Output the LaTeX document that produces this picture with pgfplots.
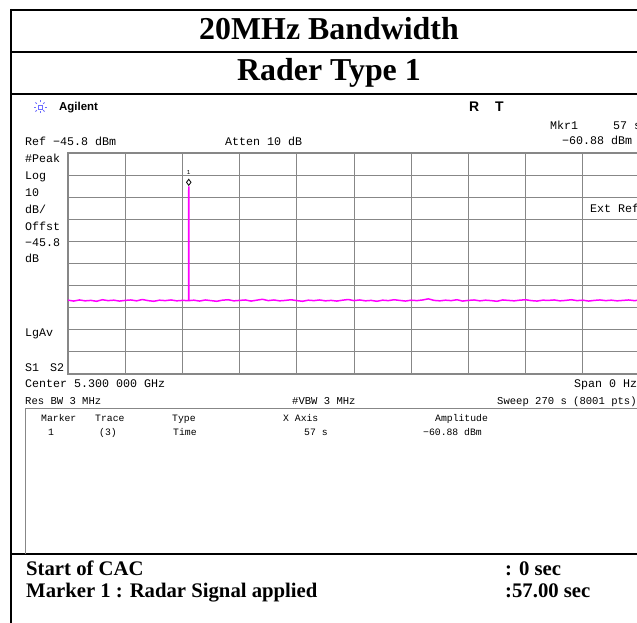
\documentclass[border=0pt]{standalone}
\usepackage{fontspec}
\setmainfont{Liberation Serif}
\newfontfamily\mono{Liberation Mono}
\newfontfamily\sans{Liberation Sans}
\usepackage{pgfplots}
\pgfplotsset{compat=1.18}
\usepackage{pgfplotstable}
\usetikzlibrary{calc}

\definecolor{trace}{RGB}{255,0,255}
\definecolor{grat}{RGB}{135,135,135}
\definecolor{logo}{RGB}{110,110,255}

% sweep trace, time in s, level in dBm
\pgfplotstableread{
t y
0 -112.4
2.7 -112.8
5.4 -112.3
8.1 -112.7
10.8 -112.5
13.5 -112.9
16.2 -112.2
18.9 -112.6
21.6 -112.4
24.3 -112.8
27.0 -112.5
29.7 -112.3
32.4 -112.7
35.1 -112.1
37.8 -112.6
40.5 -112.9
43.2 -112.4
45.9 -112.6
48.6 -112.3
51.3 -112.7
54.0 -112.5
56.9 -112.6
57.0 -60.88
57.1 -112.6
59.4 -112.4
62.1 -112.8
64.8 -112.3
67.5 -112.6
70.2 -112.9
72.9 -112.4
75.6 -112.2
78.3 -112.7
81.0 -112.5
83.7 -112.3
86.4 -112.8
89.1 -112.4
91.8 -112.0
94.5 -112.6
97.2 -112.3
99.9 -112.7
102.6 -112.5
105.3 -112.2
108.0 -112.6
110.7 -112.9
113.4 -112.4
116.1 -112.6
118.8 -112.3
121.5 -112.7
124.2 -112.5
126.9 -112.8
129.6 -112.4
132.3 -112.1
135.0 -112.6
137.7 -112.3
140.4 -112.7
143.1 -112.5
145.8 -112.9
148.5 -112.4
151.2 -112.6
153.9 -112.2
156.6 -112.5
159.3 -112.8
162.0 -112.4
164.7 -112.6
167.4 -112.3
170.1 -111.8
172.8 -112.5
175.5 -112.7
178.2 -112.4
180.9 -112.6
183.6 -112.2
186.3 -112.8
189.0 -112.5
191.7 -112.3
194.4 -112.7
197.1 -112.4
199.8 -112.6
202.5 -112.9
205.2 -112.3
207.9 -112.5
210.6 -112.7
213.3 -112.4
216.0 -112.2
218.7 -112.6
221.4 -112.8
224.1 -112.4
226.8 -112.5
229.5 -112.3
232.2 -112.7
234.9 -112.5
237.6 -112.2
240.3 -112.6
243.0 -112.4
245.7 -112.8
248.4 -112.5
251.1 -112.3
253.8 -112.6
256.5 -112.4
259.2 -112.7
261.9 -112.5
264.6 -112.3
267.3 -112.6
270.0 -112.4
}\sweep

\begin{document}
\begin{tikzpicture}
\useasboundingbox (0,0) rectangle (637bp,623bp);
\clip (0,0) rectangle (637bp,623bp);

\begin{axis}[
    at={(68bp,470bp)}, anchor=north west,
    scale only axis, width=572bp, height=221bp,
    xmin=0, xmax=270, ymin=-145.8, ymax=-45.8,
    xtick={0,27,...,270}, ytick={-145.8,-135.8,...,-45.8},
    xticklabels={}, yticklabels={},
    major tick length=0pt,
    grid=major,
    major grid style={grat, line width=1bp},
    axis line style={grat, line width=1.2bp},
    clip=true,
]
\addplot[trace, line width=1.5bp] table[x=t, y=y] {\sweep};
\addplot[only marks, mark=diamond*, mark size=3bp,
    mark options={fill=white, draw=black, line width=0.8bp, yshift=4bp}]
    coordinates {(57,-60.88)};
\node[font=\mono\fontsize{6}{6}\selectfont, inner sep=0, anchor=base]
    at (axis cs:57,-55.4) {1};
\end{axis}

\begin{scope}[x=1bp, y=-1bp, yshift=623bp]
% table frame
\draw[line width=2bp] (11,10) -- (660,10);
\draw[line width=2bp] (11,52) -- (660,52);
\draw[line width=2bp] (11,94) -- (660,94);
\draw[line width=2bp] (11,554) -- (660,554);
\draw[line width=2bp] (11,9) -- (11,630);
\node[font=\bfseries\fontsize{32}{36}\selectfont, inner sep=0, anchor=base] at (329,40) {20MHz Bandwidth};
\node[font=\bfseries\fontsize{32}{36}\selectfont, inner sep=0, anchor=base] at (329,81) {Rader Type 1};

% instrument header
\begin{scope}[logo, line width=0.8bp]
\draw (38,105) rectangle (42,109);
\foreach \a in {0,45,...,315} \draw ($(40,107)+(\a:4.5)$) -- ($(40,107)+(\a:6.5)$);
\end{scope}
\node[font=\sans\bfseries\fontsize{11.5}{12}\selectfont, inner sep=0, anchor=base west] at (59,111) {Agilent};
\node[font=\sans\bfseries\fontsize{14}{14}\selectfont, inner sep=0, anchor=base west] at (469,112) {R};
\node[font=\sans\bfseries\fontsize{14}{14}\selectfont, inner sep=0, anchor=base west] at (495,112) {T};

\tikzset{m/.style={font=\mono\fontsize{11.7}{12}\selectfont, inner sep=0, anchor=base west}}
\node[m] at (25,146) {Ref −45.8 dBm};
\node[m] at (225,146) {Atten 10 dB};
\node[m] at (550,130) {Mkr1};
\node[m] at (613,130) {57 s};
\node[m] at (562,145) {−60.88 dBm};
\node[m] at (25,163) {\#Peak};
\node[m] at (25,180) {Log};
\node[m] at (25,197) {10};
\node[m] at (25,214) {dB/};
\node[m] at (25,231) {Offst};
\node[m] at (25,247) {−45.8};
\node[m] at (25,263) {dB};
\node[m] at (25,337) {LgAv};
\node[m] at (25,372) {S1};
\node[m] at (50,372) {S2};
\node[m] at (590,213) {Ext Ref};
\node[m] at (25,388) {Center 5.300 000 GHz};
\node[m] at (574,388) {Span 0 Hz};
\tikzset{r/.style={font=\mono\fontsize{10.6}{11}\selectfont, inner sep=0, anchor=base west}}
\node[r] at (25,405) {Res BW 3 MHz};
\node[r] at (292,405) {\#VBW 3 MHz};
\node[r] at (497,405) {Sweep 270 s (8001 pts)};

% marker table
\draw[grat, line width=1bp] (25,554) -- (25,409) -- (660,409);
\tikzset{s/.style={font=\mono\fontsize{9.8}{11}\selectfont, inner sep=0, anchor=base west}}
\node[s] at (41,422) {Marker};
\node[s] at (48,436) {1};
\node[s] at (95,422) {Trace};
\node[s] at (99,436) {(3)};
\node[s] at (172,422) {Type};
\node[s] at (173,436) {Time};
\node[s] at (283,422) {X Axis};
\node[s] at (304,436) {57 s};
\node[s] at (435,422) {Amplitude};
\node[s] at (423,436) {−60.88 dBm};

% bottom rows
\tikzset{b/.style={font=\bfseries\fontsize{20.8}{22}\selectfont, inner sep=0, anchor=base west}}
\node[b] at (26,576) {Start of CAC};
\node[b] at (26,598) {Marker 1 : Radar Signal applied};
\node[b] at (505,576) {: 0 sec};
\node[b] at (505,598) {:57.00 sec};
\end{scope}
\end{tikzpicture}
\end{document}
